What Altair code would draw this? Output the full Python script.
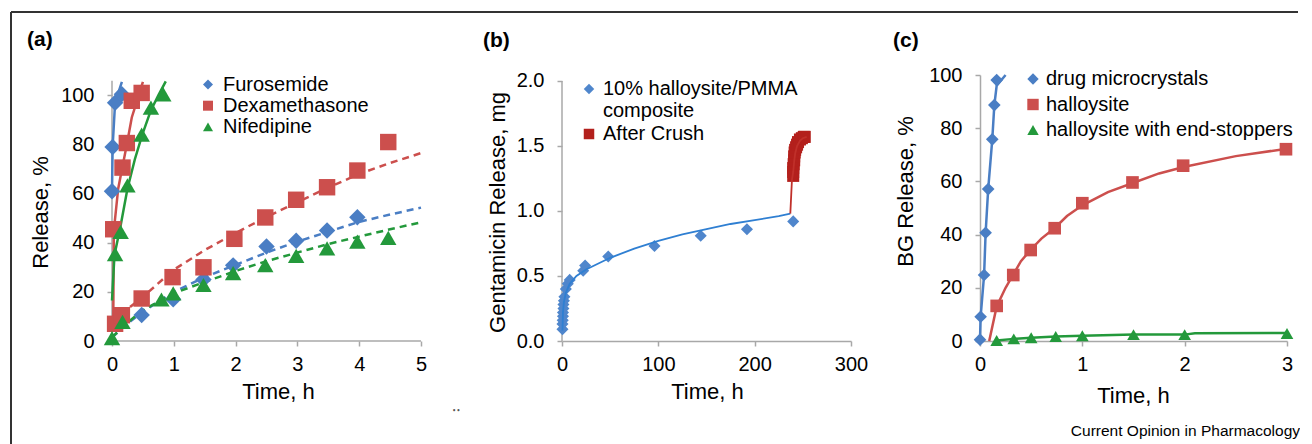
import altair as alt
import pandas as pd

FONT = "Liberation Sans"
AX = "#a8a8a8"

# ---------------- Panel (a) ----------------
A_SERIES = ["Furosemide", "Dexamethasone", "Nifedipine"]
A_COLORS = ["#4a7ec4", "#cc4f4d", "#23993b"]
A_SHAPES = ["diamond", "square", "triangle-up"]

a_furo_fast_t = [0.0, 0.01, 0.05, 0.16]
a_furo_fast_v = [61, 79, 97, 100.5]
a_furo_slow_t = [0.48, 0.99, 1.48, 1.96, 2.5, 2.98, 3.48, 3.97]
a_furo_slow_v = [10.6, 17, 25, 30.8, 38.5, 40.8, 45, 50.4]
a_dexa_fast_t = [0.02, 0.17, 0.24, 0.32, 0.48]
a_dexa_fast_v = [45.5, 70.6, 80.6, 97.8, 101]
a_dexa_slow_t = [0.05, 0.16, 0.48, 0.98, 1.48, 1.98, 2.48, 2.98, 3.48, 3.97, 4.47]
a_dexa_slow_v = [7, 10.5, 17.3, 26, 30, 41.6, 50.3, 57.5, 62.6, 69.4, 81]
a_nife_fast_t = [0.05, 0.14, 0.25, 0.48, 0.63, 0.83]
a_nife_fast_v = [35.4, 44.4, 63.4, 84, 95, 100.4]
a_nife_slow_t = [0.0, 0.17, 0.8, 0.99, 1.48, 1.96, 2.48, 2.98, 3.48, 3.97, 4.47]
a_nife_slow_v = [1.2, 7.8, 16.9, 19.4, 22.8, 27.6, 30.9, 34.7, 37.7, 40.5, 42]

# trend lines
a_furo_fit_fast_t = [0.0, 0.01, 0.05, 0.16]
a_furo_fit_fast_v = [61, 79, 97, 105.5]
a_dexa_fit_fast_t = [0.02, 0.03, 0.1, 0.17, 0.24, 0.32, 0.42, 0.5]
a_dexa_fit_fast_v = [7, 45, 62, 71, 80, 91, 99, 105.5]
a_nife_fit_fast_t = [0.0, 0.04, 0.14, 0.25, 0.37, 0.49, 0.63, 0.75, 0.87]
a_nife_fit_fast_v = [16.5, 35, 47, 62, 74, 84, 94, 100, 105.7]
a_fit_slow_t = [0.0, 0.25, 0.5, 1.0, 1.5, 2.0, 2.5, 3.0, 3.5, 4.0, 4.5, 5.0]
a_furo_fit_slow_v = [1.5, 7, 12, 20, 26, 31, 36, 40.5, 44.5, 48.5, 51.5, 54.3]
a_dexa_fit_slow_t = [0.15, 0.25, 0.5, 1.0, 1.5, 2.0, 2.5, 3.0, 3.5, 4.0, 4.5, 5.0]
a_dexa_fit_slow_v = [10.5, 13, 18, 29, 37, 44, 50.5, 56.5, 62.5, 68, 72.5, 76.5]
a_nife_fit_slow_v = [1.5, 7.5, 12.5, 19.5, 24, 28.5, 32.5, 36, 39.5, 42.5, 45.5, 48.3]

# ---------------- Panel (b) ----------------
B_SERIES = ["10% halloysite/PMMA composite", "After Crush"]
B_COLORS = ["#4f86cc", "#b3201c"]
B_LINE_COLORS = ["#2f7fd2", "#c0302a"]
B_SHAPES = ["diamond", "square"]

b_comp_t = [0.5, 0.5, 0.75, 1, 1, 1.5, 1.5, 2, 2.5, 4, 6, 8, 22, 24, 48, 96, 144, 192, 240]
b_comp_v = [0.09, 0.13, 0.16, 0.19, 0.22, 0.25, 0.28, 0.31, 0.34, 0.40, 0.44, 0.47, 0.54, 0.58, 0.65, 0.73, 0.81, 0.86, 0.92]
b_crush_t = [240, 240, 240, 240.5, 241, 241, 241.5, 242, 243, 244, 245, 247, 249, 251, 252]
b_crush_v = [1.27, 1.30, 1.33, 1.36, 1.39, 1.42, 1.45, 1.47, 1.49, 1.51, 1.53, 1.55, 1.56, 1.57, 1.57]
b_comp_fit_t = [0.5, 1, 2, 4, 8, 15, 25, 50, 75, 100, 125, 150, 175, 200, 225, 237]
b_comp_fit_v = [0.08, 0.22, 0.3, 0.37, 0.44, 0.5, 0.55, 0.64, 0.71, 0.77, 0.82, 0.86, 0.9, 0.93, 0.96, 0.98]
b_crush_fit_t = [237, 238.7, 240, 241, 242, 244, 247, 250, 254]
b_crush_fit_v = [0.98, 1.24, 1.30, 1.38, 1.44, 1.50, 1.54, 1.56, 1.57]

# ---------------- Panel (c) ----------------
C_SERIES = ["drug microcrystals", "halloysite", "halloysite with end-stoppers"]
C_COLORS = ["#4a7ec4", "#cc4f4d", "#23993b"]
C_SHAPES = ["diamond", "square", "triangle-up"]

c_drug_t = [0.0, 0.006, 0.04, 0.055, 0.08, 0.12, 0.14, 0.163]
c_drug_v = [0.5, 9.1, 24.8, 40.7, 57.1, 75.8, 88.7, 98.1]
c_hall_t = [0.163, 0.325, 0.495, 0.73, 1.0, 1.49, 1.985, 2.99]
c_hall_v = [13.2, 24.8, 34.2, 42.4, 51.8, 59.6, 65.9, 72.1]
c_stop_t = [0.163, 0.33, 0.5, 0.74, 1.0, 1.5, 2.0, 3.0]
c_stop_v = [0.2, 0.8, 1.2, 1.7, 2.0, 2.4, 2.4, 2.8]
c_drug_fit_t = [0.0, 0.006, 0.04, 0.055, 0.08, 0.12, 0.14, 0.163, 0.25]
c_drug_fit_v = [0.5, 9.1, 24.8, 40.7, 57.1, 75.8, 88.7, 96, 100]
c_hall_fit_t = [0.09, 0.163, 0.25, 0.325, 0.4, 0.5, 0.6, 0.73, 0.85, 1.0, 1.25, 1.5, 1.75, 2.0, 2.5, 3.0]
c_hall_fit_v = [0, 13, 20, 25, 30, 34.5, 38.5, 42.5, 47, 51, 56, 59.5, 63, 65.5, 69.5, 72.3]
c_stop_fit_t = [0.163, 0.33, 0.5, 0.74, 1.0, 1.5, 2.0, 2.1, 3.0]
c_stop_fit_v = [0.2, 0.8, 1.2, 1.7, 2.0, 2.4, 2.4, 2.9, 3.0]


def pts(series, t, v):
    return pd.DataFrame({"series": series, "t": t, "v": v})


def line(series, t, v, phase="fit"):
    return pd.DataFrame({"series": series, "phase": phase, "t": t, "v": v})


def one(label):
    return pd.DataFrame({"label": [label]})


def xenc(dmax, values, tx, ty, show_domain=True):
    return alt.X("t:Q", scale=alt.Scale(domain=[0, dmax], nice=False, zero=False),
                 axis=alt.Axis(values=values, title="Time, h", titleX=tx, titleY=ty,
                               titleBaseline="middle", domain=show_domain, format="d"))


def yenc(dmax, values, title, tx, ty, fmt, show_domain=True):
    return alt.Y("v:Q", scale=alt.Scale(domain=[0, dmax], nice=False, zero=False),
                 axis=alt.Axis(values=values, title=title, titleX=tx, titleY=ty,
                               titleBaseline="middle", domain=show_domain, format=fmt))


def text_layer(label, x, y, size, weight="normal", align="left", color="black"):
    return alt.Chart(one(label)).mark_text(
        font=FONT, fontSize=size, fontWeight=weight, align=align, baseline="middle", color=color
    ).encode(text="label:N", x=alt.value(x), y=alt.value(y))


# ---- panel (a) ----
A_W, A_H = 321, 266
ax = lambda: xenc(5.194, [0, 1, 2, 3, 4, 5], 166, 50, show_domain=False)
ay = lambda: yenc(108.3, [0, 20, 40, 60, 80, 100], "Release, %", -72, 137, "d", show_domain=False)

a_points = pd.concat([
    pts("Furosemide", a_furo_fast_t, a_furo_fast_v),
    pts("Furosemide", a_furo_slow_t, a_furo_slow_v),
    pts("Dexamethasone", a_dexa_fast_t, a_dexa_fast_v),
    pts("Dexamethasone", a_dexa_slow_t, a_dexa_slow_v),
    pts("Nifedipine", a_nife_fast_t, a_nife_fast_v),
    pts("Nifedipine", a_nife_slow_t, a_nife_slow_v),
])
a_fast = pd.concat([
    line("Furosemide", a_furo_fit_fast_t, a_furo_fit_fast_v),
    line("Dexamethasone", a_dexa_fit_fast_t, a_dexa_fit_fast_v),
    line("Nifedipine", a_nife_fit_fast_t, a_nife_fit_fast_v),
])
a_slow = pd.concat([
    line("Furosemide", a_fit_slow_t, a_furo_fit_slow_v),
    line("Dexamethasone", a_dexa_fit_slow_t, a_dexa_fit_slow_v),
    line("Nifedipine", a_fit_slow_t, a_nife_fit_slow_v),
])
a_color_nolegend = alt.Color("series:N", scale=alt.Scale(domain=A_SERIES, range=A_COLORS), legend=None)

a_axes_lines = alt.Chart(pd.DataFrame({"t": [0, 0], "t2": [5, 0], "v": [0, 0], "v2": [0, 106]})).mark_rule(
    color=AX, strokeWidth=1.5).encode(x=ax(), x2="t2", y=ay(), y2="v2")

a_fast_l = alt.Chart(a_fast).mark_line(strokeWidth=2.5).encode(
    x=ax(), y=ay(), color=a_color_nolegend, detail="series:N")
a_slow_l = alt.Chart(a_slow).mark_line(strokeWidth=2.5, strokeDash=[7, 5]).encode(
    x=ax(), y=ay(), color=a_color_nolegend, detail="series:N")
a_pts = alt.Chart(a_points).mark_point(filled=True, opacity=1, size=270).encode(
    x=ax(), y=ay(),
    color=alt.Color("series:N", scale=alt.Scale(domain=A_SERIES, range=A_COLORS),
                    legend=alt.Legend(orient="none", legendX=86, legendY=-0.5, title=None,
                                      labelFontSize=20, labelFont=FONT, symbolSize=100,
                                      labelOffset=5, rowPadding=1.2, padding=0,
                                      symbolStrokeWidth=0, labelLimit=400)),
    shape=alt.Shape("series:N", scale=alt.Scale(domain=A_SERIES, range=A_SHAPES)),
)

frame_top = alt.Chart(one("f")).mark_rule(color="#333333", strokeWidth=2).encode(
    x=alt.value(-101), x2=alt.value(1186), y=alt.value(-63))
frame_left = alt.Chart(one("f")).mark_rule(color="#333333", strokeWidth=2).encode(
    x=alt.value(-101), y=alt.value(-63), y2=alt.value(369))

panel_a = alt.layer(
    frame_top, frame_left, a_axes_lines, a_slow_l, a_fast_l, a_pts,
    text_layer("(a)", -85, -35, 21, "bold"),
).resolve_scale(color="independent", shape="independent").properties(width=A_W, height=A_H)

# ---- panel (b) ----
B_W, B_H = 289, 266
bx = lambda: xenc(300, [0, 100, 200, 300], 145, 50)
by = lambda: yenc(2.046, [0, 0.5, 1.0, 1.5, 2.0], "Gentamicin Release, mg", -65, 137, ".1f", show_domain=False)

b_points = pd.concat([
    pts(B_SERIES[0], b_comp_t, b_comp_v),
    pts(B_SERIES[1], b_crush_t, b_crush_v),
])
b_lines = pd.concat([
    line(B_SERIES[0], b_comp_fit_t, b_comp_fit_v),
    line(B_SERIES[1], b_crush_fit_t, b_crush_fit_v),
])
b_axis_line = alt.Chart(pd.DataFrame({"t": [0], "v": [0], "v2": [2.0]})).mark_rule(
    color=AX, strokeWidth=1.5).encode(x=bx(), y=by(), y2="v2")
b_pts = alt.Chart(b_points).mark_point(filled=True, opacity=1, size=145).encode(
    x=bx(), y=by(),
    color=alt.Color("series:N", scale=alt.Scale(domain=B_SERIES, range=B_COLORS),
                    legend=alt.Legend(orient="none", legendX=17, legendY=4, title=None,
                                      labelFontSize=20, labelFont=FONT, symbolSize=110,
                                      labelOffset=4, rowPadding=3, padding=0,
                                      symbolStrokeWidth=0, labelLimit=400,
                                      labelExpr="datum.label == '10% halloysite/PMMA composite' ? ['10% halloysite/PMMA', 'composite'] : datum.label")),
    shape=alt.Shape("series:N", scale=alt.Scale(domain=B_SERIES, range=B_SHAPES)),
)
b_l = alt.Chart(b_lines).mark_line(strokeWidth=1.8).encode(
    x=bx(), y=by(),
    color=alt.Color("series:N", scale=alt.Scale(domain=B_SERIES, range=B_LINE_COLORS), legend=None),
    detail="series:N")

panel_b = alt.layer(
    b_axis_line, b_pts, b_l,
    text_layer("(b)", -79, -34, 21, "bold"),
    text_layer("‥", -110, 331, 16, color="#555555"),
).resolve_scale(color="independent", shape="independent").properties(width=B_W, height=B_H)

# ---- panel (c) ----
C_W, C_H = 307, 266
cx = lambda: xenc(3, [0, 1, 2, 3], 153, 54)
cy = lambda: yenc(100, [0, 20, 40, 60, 80, 100], "BG Release, %", -75, 116, "d")

c_points = pd.concat([
    pts(C_SERIES[0], c_drug_t, c_drug_v),
    pts(C_SERIES[1], c_hall_t, c_hall_v),
    pts(C_SERIES[2], c_stop_t, c_stop_v),
])
c_lines = pd.concat([
    line(C_SERIES[0], c_drug_fit_t, c_drug_fit_v),
    line(C_SERIES[1], c_hall_fit_t, c_hall_fit_v),
    line(C_SERIES[2], c_stop_fit_t, c_stop_fit_v),
])
c_l = alt.Chart(c_lines).mark_line(strokeWidth=2.5).encode(
    x=cx(), y=cy(),
    color=alt.Color("series:N", scale=alt.Scale(domain=C_SERIES, range=C_COLORS), legend=None),
    detail="series:N")
c_pts = alt.Chart(c_points).mark_point(filled=True, opacity=1, size=160).encode(
    x=cx(), y=cy(),
    color=alt.Color("series:N", scale=alt.Scale(domain=C_SERIES, range=C_COLORS),
                    legend=alt.Legend(orient="none", legendX=43, legendY=-6, title=None,
                                      labelFontSize=20, labelFont=FONT, symbolSize=130,
                                      labelOffset=3, rowPadding=5.5, padding=0,
                                      symbolStrokeWidth=0, labelLimit=400)),
    shape=alt.Shape("series:N", scale=alt.Scale(domain=C_SERIES, range=C_SHAPES)),
)

panel_c = alt.layer(
    c_l, c_pts,
    text_layer("(c)", -87, -34, 21, "bold"),
    text_layer("Current Opinion in Pharmacology", 320, 356, 15.5, align="right"),
).resolve_scale(color="independent", shape="independent").properties(width=C_W, height=C_H)

chart = alt.hconcat(panel_a, panel_b, panel_c, spacing=129, bounds="flush").resolve_scale(
    color="independent", shape="independent"
).properties(
    padding={"left": 2, "top": 3, "right": 0, "bottom": 0}
).configure_view(stroke=None).configure_axis(
    grid=False, domainColor=AX, domainWidth=1.5, tickColor=AX, tickWidth=1.5, tickSize=5,
    labelFont=FONT, labelFontSize=20, labelColor="black", labelFlush=False, labelOverlap=False,
    titleFont=FONT, titleFontSize=22, titleFontWeight="normal", titleColor="black",
    labelPadding=13,
).configure_axisX(labelPadding=8).configure_legend(labelColor="black")

chart.save("out.html", embed_options={"renderer": "svg", "actions": False})
